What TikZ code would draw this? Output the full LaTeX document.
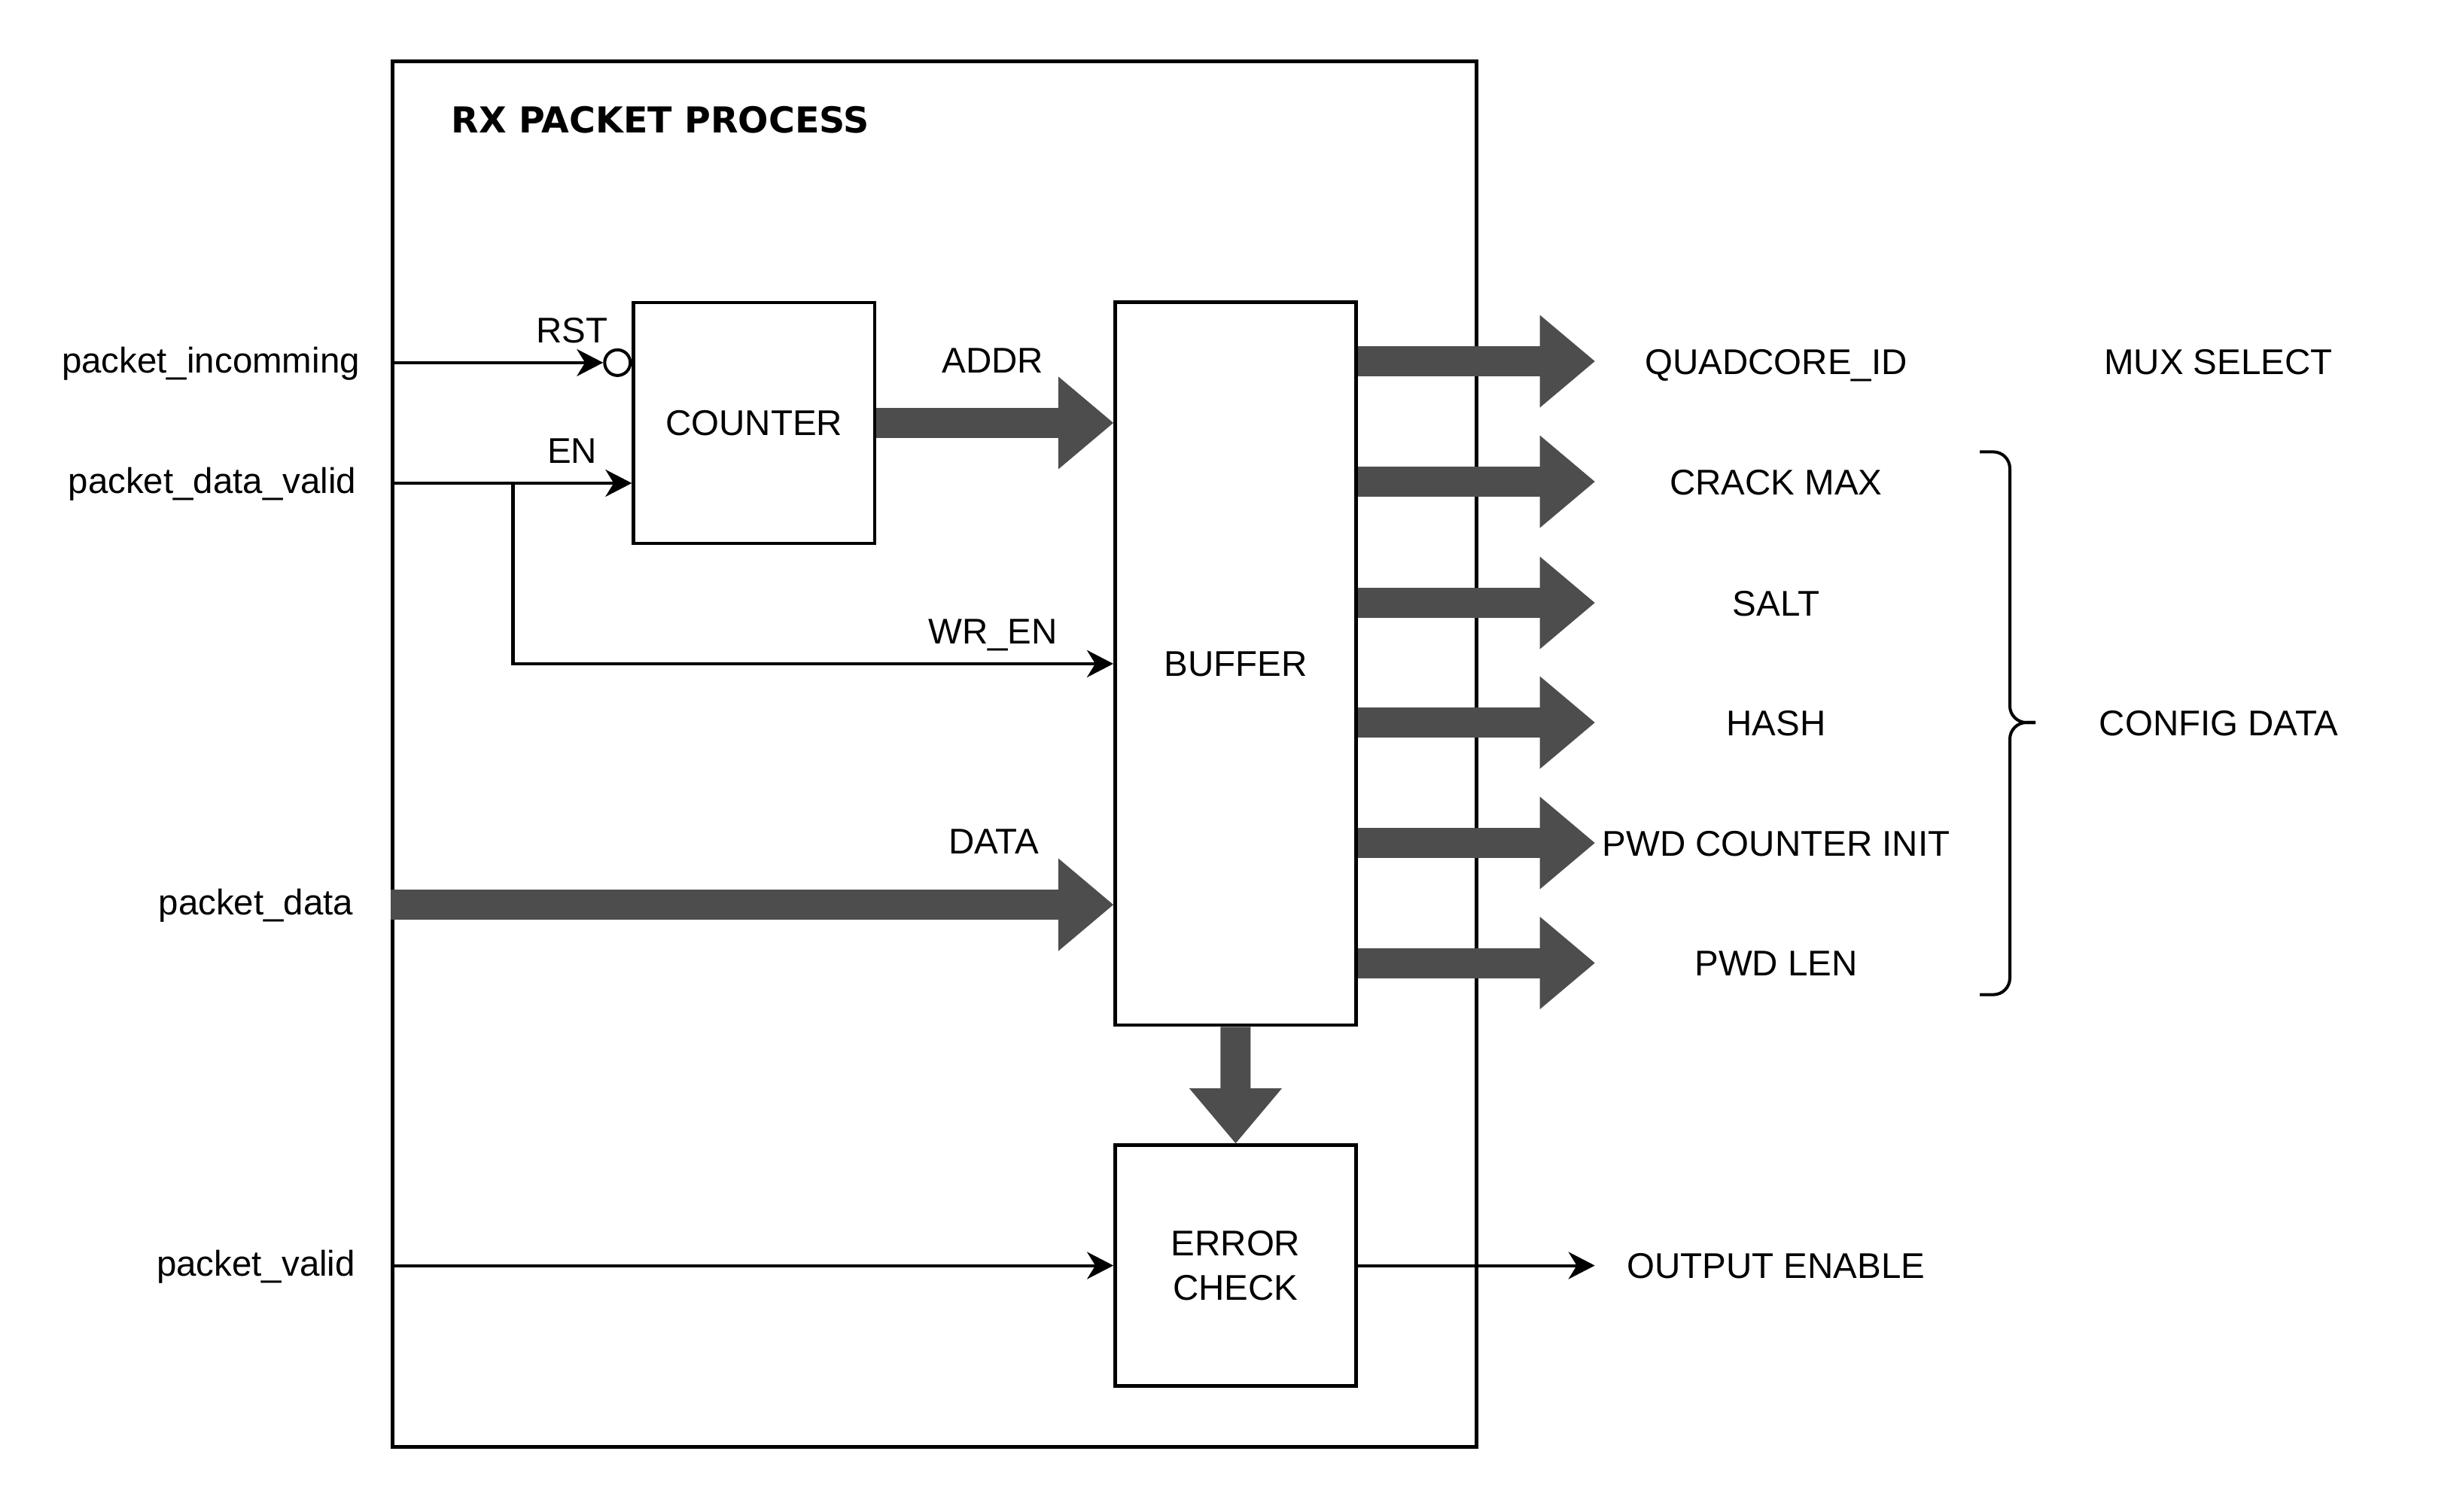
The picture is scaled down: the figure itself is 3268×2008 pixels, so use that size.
\documentclass[tikz,border=0pt]{standalone}
\usepackage{fontspec}
\setmainfont{Liberation Sans}
\newfontfamily\titlefont{DejaVu Sans}
\usepackage{tikz}
\usetikzlibrary{arrows.meta, positioning}
\definecolor{busgray}{HTML}{4D4D4D}

\begin{document}
\begin{tikzpicture}[x=0.01cm, y=-0.01cm,
  font=\fontsize{13.5}{16.8}\selectfont,
  block/.style={draw, line width=1.3pt, inner sep=0pt, minimum width=3.2cm, minimum height=3.2cm, align=center},
  bubble/.style={draw, circle, line width=1.15pt, inner sep=0pt, minimum size=0.34cm},
  sig/.style={line width=1.15pt, -{Stealth[length=0.35cm, width=0.36cm, inset=0.11cm]}},
  bus/.style={line width=0.4cm, draw=busgray, -{Triangle[length=0.73cm, width=1.23cm, line width=0pt]}},
  caplbl/.style={inner sep=0pt, text height=0.34cm, text depth=0pt},
  outlbl/.style={caplbl, minimum width=4.8cm},
  inlbl/.style={inner sep=0pt, anchor=base}]
\useasboundingbox (0,0) rectangle (3268,2008);

% outer block and title
\node[draw, line width=1.3pt, inner sep=0pt, minimum width=14.39cm, minimum height=18.40cm] (rxbox) at (1241.4,1001.9) {};
\node[anchor=west, inner sep=0pt, font=\titlefont\bfseries\fontsize{13.5}{16.8}\selectfont] (title) at (599,159) {RX PACKET PROCESS};

% inner blocks
\node[block] (counter) at (1001.7,561.9) {COUNTER};
\node[block, minimum height=9.6cm] (buffer) at (1641.4,881.9) {BUFFER};
\node[block] (errchk) at (1641.5,1681.5) {ERROR\\CHECK};

\node[bubble, anchor=east] (rstbub) at ([yshift=0.8cm]counter.west) {};
\coordinate (enpin) at ([yshift=-0.8cm]counter.west);
\coordinate (wrsplit) at (681.5,642.4);
\coordinate (datapin) at ([yshift=-3.2cm]buffer.west);

% inputs
\node[inlbl] (pinc) at (280,495) {packet\_incomming};
\node[inlbl] (pdv) at (282,655) {packet\_data\_valid};
\node[inlbl] (pdata) at (340,1215.4) {packet\_data};
\node[inlbl] (pvalid) at (340,1695) {packet\_valid};

% labels on the lines
\node[caplbl] (rstlbl) at (760,438.5) {RST};
\node[caplbl] (enlbl) at (760,598.5) {EN};
\node[caplbl] (addrlbl) at (1319,478.5) {ADDR};
\node[caplbl] (wrenlbl) at (1319,838.5) {WR\_EN};
\node[caplbl] (datalbl) at (1320,1117.5) {DATA};

% outputs
\node[outlbl] (quad) at (2359.5,480) {QUADCORE\_ID};
\node[outlbl] (crack) at (2359.5,640) {CRACK MAX};
\node[outlbl] (salt) at (2359.5,801) {SALT};
\node[outlbl] (hash) at (2359.5,960) {HASH};
\node[outlbl] (pwdcnt) at (2359.5,1120) {PWD COUNTER INIT};
\node[outlbl] (pwdlen) at (2359.5,1279.5) {PWD LEN};
\node[outlbl] (outen) at (2359.5,1681.5) {OUTPUT ENABLE};
\node[caplbl] (muxsel) at (2947,480) {MUX SELECT};
\node[caplbl] (cfgdata) at (2947.5,960) {CONFIG DATA};

% thin signals
\draw[sig] (rxbox.west |- rstbub) -- (rstbub.west);
\draw[sig] (rxbox.west |- enpin) -- (enpin);
\draw[sig] (wrsplit) |- (buffer.west);
\draw[sig] (rxbox.west |- errchk) -- (errchk.west);
\draw[sig] (errchk.east) -- (outen.west);

% buses
\draw[bus] (counter.east) -- (counter.east -| buffer.west);
\draw[bus] (rxbox.west |- datapin) -- (datapin);
\draw[bus] (buffer.south) -- (errchk.north);
\draw[bus] (buffer.east |- quad) -- (quad.west);
\draw[bus] (buffer.east |- crack) -- (crack.west);
\draw[bus] (buffer.east |- salt) -- (salt.west);
\draw[bus] (buffer.east |- hash) -- (hash.west);
\draw[bus] (buffer.east |- pwdcnt) -- (pwdcnt.west);
\draw[bus] (buffer.east |- pwdlen) -- (pwdlen.west);

% config data brace
\coordinate (bracetip) at (2704,960);
\draw[line width=1.15pt, rounded corners=0.22cm] (2630,600.4) -| (2670,960) -- (bracetip);
\draw[line width=1.15pt, rounded corners=0.22cm] (2630,1321.6) -| (2670,960) -- (bracetip);
\end{tikzpicture}
\end{document}
